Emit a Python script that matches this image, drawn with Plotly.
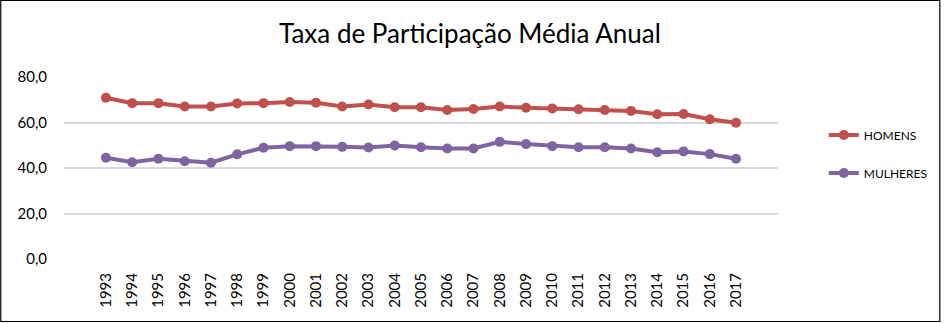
import plotly.graph_objects as go

# Taxa de participação média anual, por sexo (%)
anos = [str(a) for a in range(1993, 2018)]
homens = [70.9, 68.5, 68.5, 67.0, 67.0, 68.4, 68.5, 69.0, 68.7, 67.0,
          67.9, 66.7, 66.7, 65.5, 65.9, 67.0, 66.5, 66.2, 65.8, 65.5,
          65.1, 63.6, 63.7, 61.4, 59.9]
mulheres = [44.5, 42.5, 44.1, 43.0, 42.3, 46.0, 48.9, 49.6, 49.6, 49.3,
            49.0, 49.9, 49.1, 48.6, 48.6, 51.5, 50.5, 49.6, 49.1, 49.1,
            48.6, 46.9, 47.3, 46.1, 44.1]
y_ticks = [0, 20, 40, 60, 80]

COR_H = "#C0504D"
COR_M = "#8064A2"
FONTE = "Lato, 'Open Sans', sans-serif"

W, H = 945, 323
ML, MR, MT, MB = 64, 164, 77, 64
PW, PH = W - ML - MR, H - MT - MB

fig = go.Figure()
fig.add_trace(go.Scatter(
    x=anos, y=homens, name="HOMENS", mode="lines+markers",
    line=dict(color=COR_H, width=4), marker=dict(color=COR_H, size=10),
    legend="legend",
))
fig.add_trace(go.Scatter(
    x=anos, y=mulheres, name="MULHERES", mode="lines+markers",
    line=dict(color=COR_M, width=4), marker=dict(color=COR_M, size=10),
    legend="legend2",
))

leg_common = dict(
    xref="paper", yref="paper", xanchor="left", yanchor="middle",
    bgcolor="rgba(0,0,0,0)", borderwidth=0,
    font=dict(family=FONTE, size=12, color="#000000"),
    itemwidth=30,
)

fig.update_layout(
    width=W, height=H,
    margin=dict(l=ML, r=MR, t=MT, b=MB, pad=0),
    paper_bgcolor="#FFFFFF", plot_bgcolor="#FFFFFF",
    separators=",.",
    showlegend=True,
    title=dict(
        text="Taxa de Participação Média Anual",
        x=470 / W, xanchor="center", y=1 - 34 / H, yanchor="middle",
        font=dict(family=FONTE, size=26, color="#000000"),
    ),
    legend=dict(x=(827 - ML) / PW, y=(H - MB - 135) / PH, **leg_common),
    legend2=dict(x=(827 - ML) / PW, y=(H - MB - 173) / PH, **leg_common),
    xaxis=dict(
        type="category", showgrid=False, zeroline=False, showline=False,
        ticks="", tickangle=-90,
        tickfont=dict(family=FONTE, size=15, color="#000000"),
        ticklabelstandoff=10,
    ),
    yaxis=dict(
        range=[0, 80], tickvals=y_ticks, tickformat=".1f",
        showgrid=True, gridcolor="#D9D9D9", gridwidth=1.5,
        zeroline=False, showline=False, ticks="",
        tickfont=dict(family=FONTE, size=15, color="#000000"),
        ticklabelstandoff=16,
    ),
    shapes=[dict(
        type="rect", xref="paper", yref="paper",
        x0=(0.5 - ML) / PW, x1=(W - 1.5 - ML) / PW,
        y0=-(MB - 1.5) / PH, y1=1 + (MT - 0.5) / PH,
        line=dict(color="#000000", width=1.2), fillcolor="rgba(0,0,0,0)",
        layer="below",
    )],
)
fig.update_yaxes(autorange=False)

fig.write_html("out.html")
